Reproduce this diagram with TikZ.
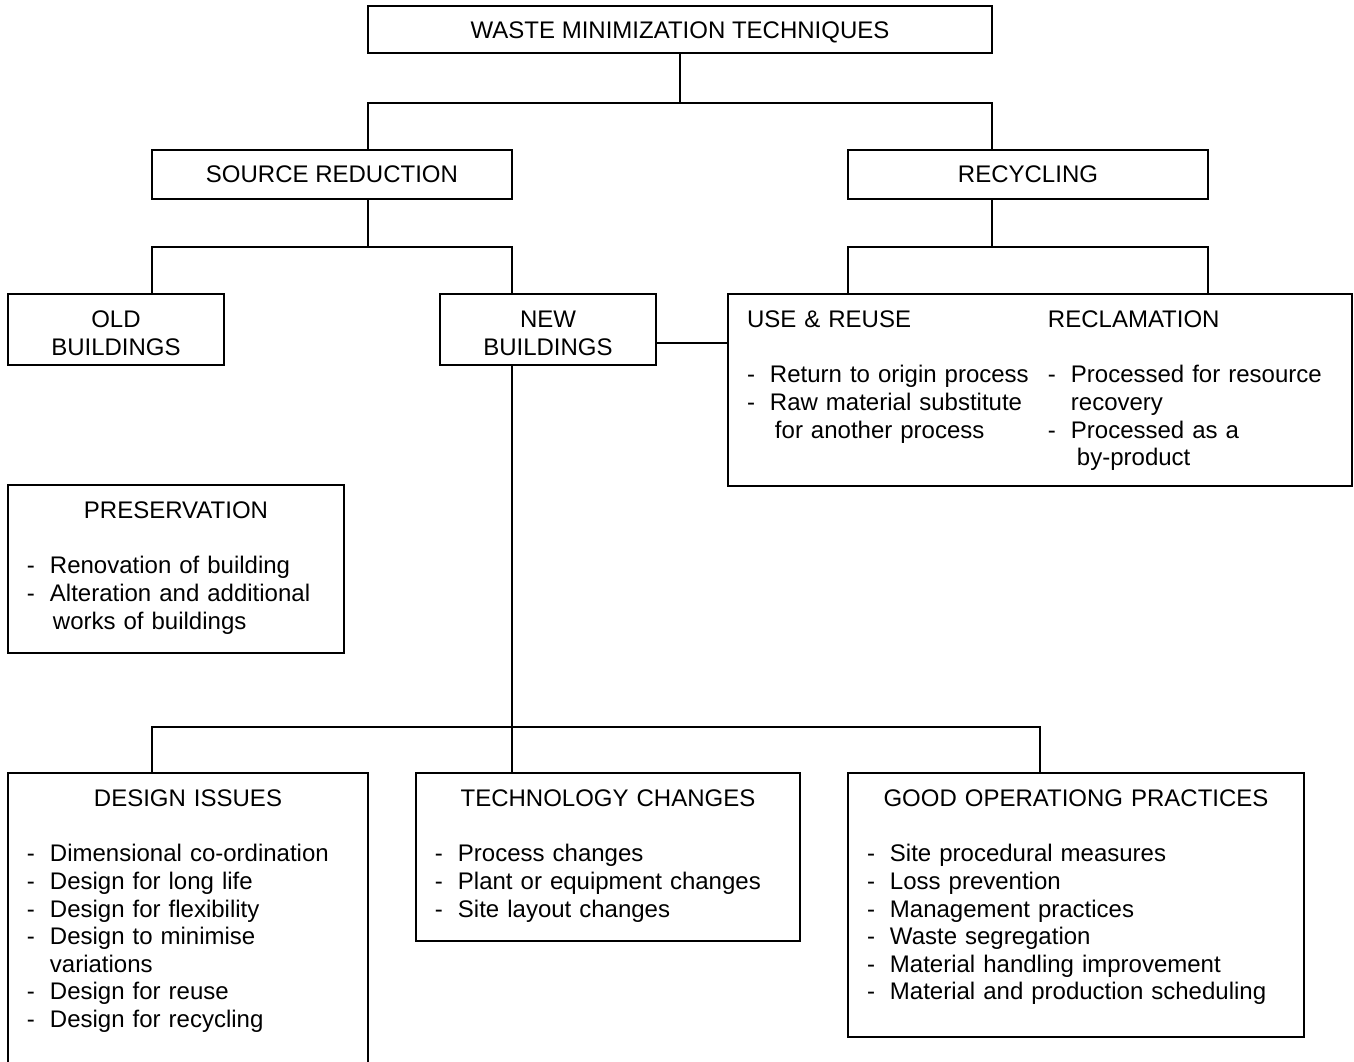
\documentclass[tikz,border=0pt]{standalone}
\usepackage{fontspec}
\setmainfont{Liberation Sans}
\usetikzlibrary{positioning}

\begin{document}
\begin{tikzpicture}[
    line width=1pt,
    every node/.style={font=\fontsize{12}{13.8}\selectfont},
    box/.style={rectangle, draw, align=center, inner sep=0pt, outer sep=0pt, text height=16.15pt, text depth=8.35pt},
    listbox/.style={rectangle, draw, align=left, inner xsep=9.5pt, inner ysep=0pt, outer sep=0pt, text height=16.8pt}
]
    \useasboundingbox (-340pt,14.75pt) rectangle ++(677pt,-530.5pt);

    \node[box, minimum width=312pt, text height=16.4pt, text depth=7.1pt] (title) {WASTE MINIMIZATION TECHNIQUES};
    \node[box, minimum width=180pt, below=48.5pt of title.south west, xshift=-18pt] (source) {SOURCE REDUCTION};
    \node[box, minimum width=180pt, below=48.5pt of title.south east, xshift=18pt] (recycling) {RECYCLING};
    \node[box, minimum width=108pt, text height=30.9pt, text depth=4.6pt, below=47.5pt of source.south west, xshift=-18pt] (old) {OLD\\[0.55pt]BUILDINGS};
    \node[box, minimum width=108pt, text height=30.9pt, text depth=4.6pt, below=47.5pt of source.south east, xshift=18pt] (new) {NEW\\[0.55pt]BUILDINGS};

    \node[listbox, text width=293pt, text depth=79.2pt, right=36pt of new.north east, anchor=north west] (reuse) {%
        \begin{tabular}[t]{@{}l@{\hspace{7.5pt}}p{139pt}@{}l@{\hspace{7.5pt}}l@{}}
        \multicolumn{2}{@{}l}{USE \& REUSE} & \multicolumn{2}{@{}l@{}}{RECLAMATION}\\
        & & & \\
        - & Return to origin process & - & Processed for resource\\
        - & Raw material substitute & & recovery\\
        & \hspace*{2.5pt}for another process & - & Processed as a\\
        & & & \hspace*{3pt}by-product
        \end{tabular}};

    \node[listbox, text width=149pt, text depth=67.2pt, below=60pt of old.south west, anchor=north west] (preserve) {%
        {\centering PRESERVATION\par}\vspace{\baselineskip}
        \begin{tabular}[t]{@{}l@{\hspace{7.5pt}}l@{}}
        - & Renovation of building\\
        - & Alteration and additional\\
        & \hspace*{1.5pt}works of buildings
        \end{tabular}};

    \node[listbox, text width=161pt, text depth=129.2pt, below=60pt of preserve.south west, anchor=north west] (design) {%
        {\centering DESIGN ISSUES\par}\vspace{\baselineskip}
        \begin{tabular}[t]{@{}l@{\hspace{7.5pt}}l@{}}
        - & Dimensional co-ordination\\
        - & Design for long life\\
        - & Design for flexibility\\
        - & Design to minimise\\
        & variations\\
        - & Design for reuse\\
        - & Design for recycling
        \end{tabular}};

    \node[listbox, text width=173pt, text depth=67.2pt, right=24pt of design.north east, anchor=north west] (tech) {%
        {\centering TECHNOLOGY CHANGES\par}\vspace{\baselineskip}
        \begin{tabular}[t]{@{}l@{\hspace{7.5pt}}l@{}}
        - & Process changes\\
        - & Plant or equipment changes\\
        - & Site layout changes
        \end{tabular}};

    \node[listbox, text width=209pt, text depth=115.2pt, right=24pt of tech.north east, anchor=north west] (good) {%
        {\centering GOOD OPERATIONG PRACTICES\par}\vspace{\baselineskip}
        \begin{tabular}[t]{@{}l@{\hspace{7.5pt}}l@{}}
        - & Site procedural measures\\
        - & Loss prevention\\
        - & Management practices\\
        - & Waste segregation\\
        - & Material handling improvement\\
        - & Material and production scheduling
        \end{tabular}};

    % tree lines
    \draw (title.south) -- ++(0,-24.75pt) coordinate (tbus);
    \draw (source.north -| title.west) |- (tbus) -| (recycling.north -| title.east);
    \draw (source.south -| title.west) -- ++(0,-24pt) coordinate (sbus);
    \draw (old.north -| source.west) |- (sbus) -| (new.north -| source.east);
    \draw (recycling.south -| title.east) -- ++(0,-24pt) coordinate (rbus);
    \draw (reuse.north -| recycling.west) |- (rbus) -| (reuse.north -| recycling.east);
    \draw ([yshift=-6.75pt]new.east) coordinate (link) -- (link -| reuse.west);
    \draw (new.south -| source.east) -- (tech.north -| source.east);
    \draw (design.north -| source.west) -- ++(0,23pt) coordinate (nbus) -| ([xshift=-18pt]good.north);
\end{tikzpicture}
\end{document}
